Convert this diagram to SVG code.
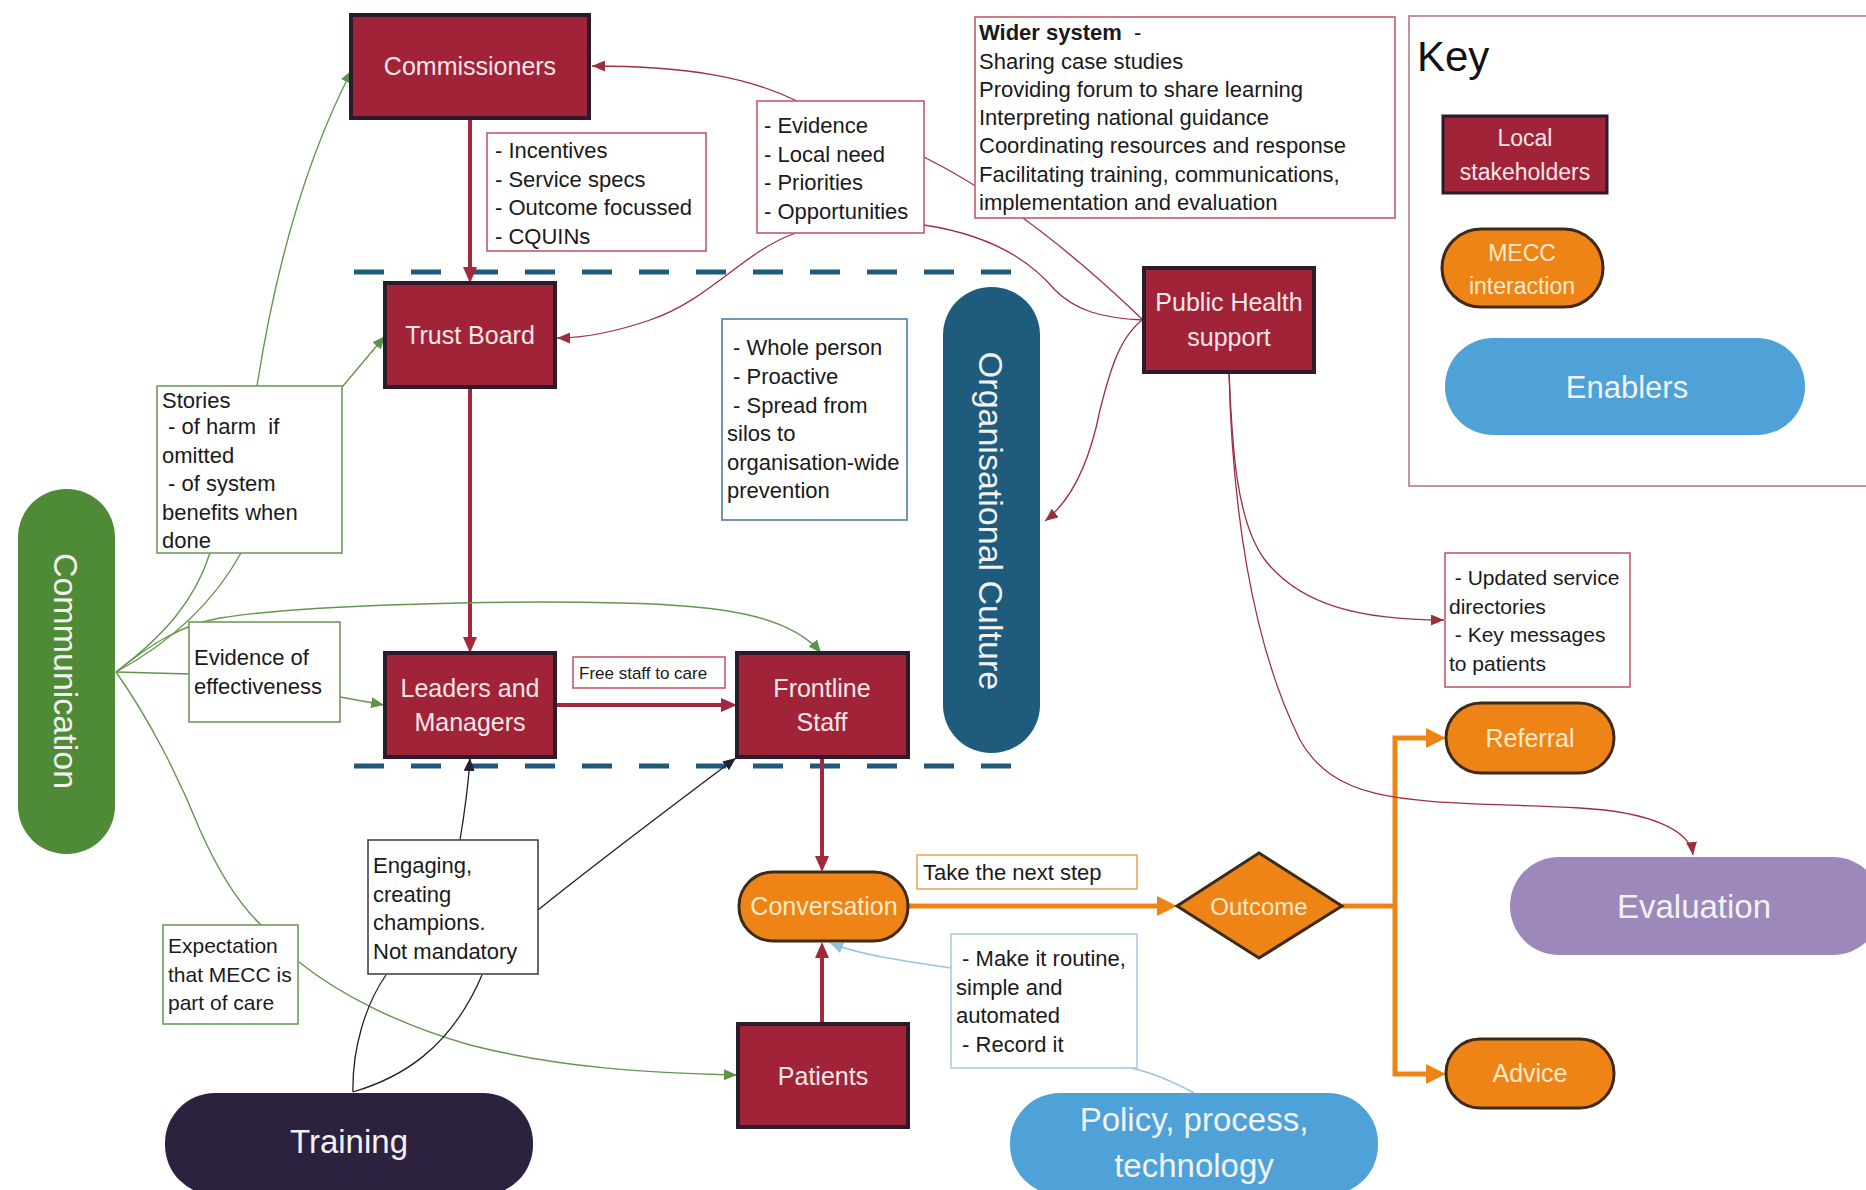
<svg xmlns="http://www.w3.org/2000/svg" width="1866" height="1190" viewBox="0 0 1866 1190" xml:space="preserve">
<style>
text { font-family: "Liberation Sans", Arial, sans-serif; white-space: pre; }
.lbl { font-size: 25px; fill: #F7E6E9; text-anchor: middle; }
.olbl { font-size: 25px; fill: #FDEBCB; text-anchor: middle; }
.big { font-size: 33px; fill: #F2F2F2; text-anchor: middle; }
.bt { font-size: 22px; fill: #1A1A1A; }
.stake { fill: #A02337; stroke: #2B1B2C; stroke-width: 4; }
.mecc { fill: #EE8416; stroke: #3E2A18; stroke-width: 3; }
.box { fill: #FFFFFF; stroke-width: 1.6; }
.bred { stroke: #C25A6A; }
.bgreen { stroke: #6E9A5C; }
.bblue { stroke: #4E7F9C; }
.blight { stroke: #A9CDE4; }
.borange { stroke: #F0A560; }
.bdark { stroke: #444444; }
.thick { fill: none; stroke: #A3283D; stroke-width: 4; }
.thinred { fill: none; stroke: #9C3040; stroke-width: 1.3; }
.green { fill: none; stroke: #649650; stroke-width: 1.4; }
.black { fill: none; stroke: #222222; stroke-width: 1.3; }
.lblue { fill: none; stroke: #96C4E2; stroke-width: 1.5; }
.orange { fill: none; stroke: #EE8416; stroke-width: 5; stroke-linejoin: miter; }
.dash { fill: none; stroke: #1F5A7A; stroke-width: 5; stroke-dasharray: 30 27; }
</style>
<defs>
<marker id="aRed" viewBox="0 0 16 14" refX="6" refY="7" markerWidth="16" markerHeight="14" markerUnits="userSpaceOnUse" orient="auto"><path d="M0,0 L16,7 L0,14 z" fill="#A3283D"/></marker>
<marker id="aOrange" viewBox="0 0 20 20" refX="8" refY="10" markerWidth="20" markerHeight="20" markerUnits="userSpaceOnUse" orient="auto"><path d="M0,0 L20,10 L0,20 z" fill="#EE8416"/></marker>
<marker id="aRedS" viewBox="0 0 13 11" refX="13" refY="5.5" markerWidth="13" markerHeight="11" markerUnits="userSpaceOnUse" orient="auto"><path d="M0,0 L13,5.5 L0,11 z" fill="#9C3040"/></marker>
<marker id="aGreen" viewBox="0 0 13 11" refX="13" refY="5.5" markerWidth="13" markerHeight="11" markerUnits="userSpaceOnUse" orient="auto"><path d="M0,0 L13,5.5 L0,11 z" fill="#5E9447"/></marker>
<marker id="aBlack" viewBox="0 0 13 11" refX="13" refY="5.5" markerWidth="13" markerHeight="11" markerUnits="userSpaceOnUse" orient="auto"><path d="M0,0 L13,5.5 L0,11 z" fill="#222233"/></marker>
<marker id="aBlue" viewBox="0 0 13 11" refX="13" refY="5.5" markerWidth="13" markerHeight="11" markerUnits="userSpaceOnUse" orient="auto"><path d="M0,0 L13,5.5 L0,11 z" fill="#8FC0E0"/></marker>
</defs>

<rect width="1866" height="1190" fill="#FFFFFF"/>

<g id="boundaries">
<path class="dash" d="M354,272 H1017"/>
<path class="dash" d="M354,766 H1017"/>
</g>

<g id="connectors">
<path class="thick" d="M470,118 V273" marker-end="url(#aRed)"/>
<path class="thick" d="M470,388 V643" marker-end="url(#aRed)"/>
<path class="thick" d="M556,705 H727" marker-end="url(#aRed)"/>
<path class="thick" d="M822,757 V862" marker-end="url(#aRed)"/>
<path class="thick" d="M822,1024 V952" marker-end="url(#aRed)"/>
<path class="orange" d="M908,906 H1165" marker-end="url(#aOrange)"/>
<path class="orange" d="M1342,906 H1395"/>
<path class="orange" d="M1395,906 V738 H1434" marker-end="url(#aOrange)"/>
<path class="orange" d="M1395,906 V1074 H1434" marker-end="url(#aOrange)"/>
<path class="thinred" d="M797,101 C750,78 690,66 592,66" marker-end="url(#aRedS)"/>
<path class="thinred" d="M796,233 C745,250 710,300 650,320 C615,332 585,338 557,338" marker-end="url(#aRedS)"/>
<path class="thinred" d="M924,157 C990,190 1060,240 1143,320"/>
<path class="thinred" d="M924,225 C990,235 1030,260 1055,290 C1075,310 1100,318 1143,320"/>
<path class="thinred" d="M1145,318 C1120,335 1110,370 1100,410 C1090,460 1072,500 1045,521" marker-end="url(#aRedS)"/>
<path class="thinred" d="M1229,372 C1232,440 1235,520 1265,560 C1300,605 1360,620 1444,620" marker-end="url(#aRedS)"/>
<path class="thinred" d="M1229,372 C1232,500 1250,640 1300,740 C1340,810 1420,800 1580,808 C1650,812 1690,830 1693,855" marker-end="url(#aRedS)"/>
<path class="green" d="M116,672 C165,635 195,600 210,553 L257,386 C272,290 300,170 352,70" marker-end="url(#aGreen)"/>
<path class="green" d="M116,672 C175,640 215,600 241,553 L343,386 L385,336" marker-end="url(#aGreen)"/>
<path class="green" d="M116,672 C150,645 180,625 220,618 C300,605 500,600 620,603 C720,605 790,615 821,653" marker-end="url(#aGreen)"/>
<path class="green" d="M116,672 L190,674 M340,697 L384,705" marker-end="url(#aGreen)"/>
<path class="green" d="M116,672 C150,720 180,780 200,830 C220,875 240,905 261,925"/>
<path class="green" d="M299,962 C340,995 400,1025 470,1045 C560,1068 650,1073 737,1075" marker-end="url(#aGreen)"/>
<path class="black" d="M353,1092 C352,1050 365,1005 386,975"/>
<path class="black" d="M460,840 C465,810 468,790 470,758" marker-end="url(#aBlack)"/>
<path class="black" d="M353,1092 C400,1078 450,1050 482,975"/>
<path class="black" d="M538,910 C600,860 680,800 736,758" marker-end="url(#aBlack)"/>
<path class="lblue" d="M1194,1093 C1170,1080 1150,1072 1131,1068"/>
<path class="lblue" d="M951,968 C910,962 860,955 830,943" marker-end="url(#aBlue)"/>
</g>

<g id="commissioners">
<rect class="stake" x="351" y="15" width="238" height="103"/>
<text class="lbl" x="470" y="75">Commissioners</text>
</g>
<g id="trust-board">
<rect class="stake" x="385" y="283" width="170" height="104"/>
<text class="lbl" x="470" y="344">Trust Board</text>
</g>
<g id="leaders-managers">
<rect class="stake" x="385" y="653" width="170" height="104"/>
<text class="lbl" x="470" y="697">Leaders and</text>
<text class="lbl" x="470" y="731">Managers</text>
</g>
<g id="frontline-staff">
<rect class="stake" x="737" y="653" width="171" height="104"/>
<text class="lbl" x="822" y="697">Frontline</text>
<text class="lbl" x="822" y="731">Staff</text>
</g>
<g id="public-health">
<rect class="stake" x="1144" y="268" width="170" height="104"/>
<text class="lbl" x="1229" y="311">Public Health</text>
<text class="lbl" x="1229" y="346">support</text>
</g>
<g id="patients">
<rect class="stake" x="738" y="1024" width="170" height="103"/>
<text class="lbl" x="823" y="1085">Patients</text>
</g>
<g id="conversation">
<rect class="mecc" x="739" y="872" width="169" height="69" rx="34"/>
<text class="olbl" x="824" y="915">Conversation</text>
</g>
<g id="outcome">
<polygon class="mecc" points="1177,906 1259,853 1342,906 1259,958"/>
<text class="olbl" x="1259" y="915" style="font-size:24px">Outcome</text>
</g>
<g id="referral">
<rect class="mecc" x="1446" y="703" width="168" height="70" rx="35"/>
<text class="olbl" x="1530" y="747">Referral</text>
</g>
<g id="advice">
<rect class="mecc" x="1446" y="1039" width="168" height="69" rx="34"/>
<text class="olbl" x="1530" y="1082">Advice</text>
</g>
<g id="evaluation">
<rect x="1510" y="857" width="372" height="98" rx="49" fill="#9C88BB"/>
<text class="big" x="1694" y="918">Evaluation</text>
</g>
<g id="policy">
<rect x="1010" y="1093" width="368" height="102" rx="50" fill="#4EA2D7"/>
<text class="big" x="1194" y="1131">Policy, process,</text>
<text class="big" x="1194" y="1177">technology</text>
</g>
<g id="training">
<rect x="165" y="1093" width="368" height="102" rx="50" fill="#2D2140"/>
<text class="big" x="349" y="1153">Training</text>
</g>
<g id="communication">
<rect x="18" y="489" width="97" height="365" rx="48" fill="#4F8A36"/>
<text class="big" transform="translate(66,671) rotate(90)" y="12" style="font-size:34px">Communication</text>
</g>
<g id="organisational-culture">
<rect x="943" y="287" width="97" height="466" rx="48" fill="#1E5B7D"/>
<text class="big" transform="translate(991,521) rotate(90)" y="12" style="font-size:34px">Organisational Culture</text>
</g>

<g id="incentives-box">
<rect class="box bred" x="487" y="133" width="219" height="118"/>
<text class="bt" x="495" y="158">- Incentives</text>
<text class="bt" x="495" y="186.5">- Service specs</text>
<text class="bt" x="495" y="215">- Outcome focussed</text>
<text class="bt" x="495" y="243.5">- CQUINs</text>
</g>
<g id="evidence-box">
<rect class="box bred" x="757" y="101" width="167" height="132"/>
<text class="bt" x="764" y="133">- Evidence</text>
<text class="bt" x="764" y="161.5">- Local need</text>
<text class="bt" x="764" y="190">- Priorities</text>
<text class="bt" x="764" y="218.5">- Opportunities</text>
</g>
<g id="wider-system-box">
<rect class="box bred" x="975" y="17" width="420" height="201"/>
<text class="bt" x="979" y="40"><tspan font-weight="bold">Wider system</tspan>  -</text>
<text class="bt" x="979" y="68.5">Sharing case studies</text>
<text class="bt" x="979" y="97">Providing forum to share learning</text>
<text class="bt" x="979" y="125">Interpreting national guidance</text>
<text class="bt" x="979" y="153">Coordinating resources and response</text>
<text class="bt" x="979" y="182">Facilitating training, communications,</text>
<text class="bt" x="979" y="210">implementation and evaluation</text>
</g>
<g id="whole-person-box">
<rect class="box bblue" x="722" y="319" width="185" height="201"/>
<text class="bt" x="727" y="355"> - Whole person</text>
<text class="bt" x="727" y="384"> - Proactive</text>
<text class="bt" x="727" y="412.5"> - Spread from</text>
<text class="bt" x="727" y="441">silos to</text>
<text class="bt" x="727" y="469.5">organisation-wide</text>
<text class="bt" x="727" y="498">prevention</text>
</g>
<g id="stories-box">
<rect class="box bgreen" x="157" y="386" width="185" height="167"/>
<text class="bt" x="162" y="408">Stories</text>
<text class="bt" x="162" y="434"> - of harm  if</text>
<text class="bt" x="162" y="462.5">omitted</text>
<text class="bt" x="162" y="491"> - of system</text>
<text class="bt" x="162" y="519.5">benefits when</text>
<text class="bt" x="162" y="548">done</text>
</g>
<g id="effectiveness-box">
<rect class="box bgreen" x="189" y="622" width="151" height="100"/>
<text class="bt" x="194" y="665">Evidence of</text>
<text class="bt" x="194" y="693.5">effectiveness</text>
</g>
<g id="free-staff-box">
<rect class="box bred" x="573" y="657" width="152" height="31"/>
<text class="bt" x="579" y="678.5" style="font-size:17px">Free staff to care</text>
</g>
<g id="updated-service-box">
<rect class="box bred" x="1445" y="553" width="185" height="134"/>
<text class="bt" x="1449" y="585" style="font-size:21px"> - Updated service</text>
<text class="bt" x="1449" y="613.5" style="font-size:21px">directories</text>
<text class="bt" x="1449" y="642" style="font-size:21px"> - Key messages</text>
<text class="bt" x="1449" y="670.5" style="font-size:21px">to patients</text>
</g>
<g id="next-step-box">
<rect class="box borange" x="917" y="855" width="220" height="34"/>
<text class="bt" x="923" y="880">Take the next step</text>
</g>
<g id="routine-box">
<rect class="box blight" x="951" y="934" width="186" height="134"/>
<text class="bt" x="956" y="966"> - Make it routine,</text>
<text class="bt" x="956" y="994.5">simple and</text>
<text class="bt" x="956" y="1023">automated</text>
<text class="bt" x="956" y="1051.5"> - Record it</text>
</g>
<g id="engaging-box">
<rect class="box bdark" x="368" y="840" width="170" height="134"/>
<text class="bt" x="373" y="873">Engaging,</text>
<text class="bt" x="373" y="901.5">creating</text>
<text class="bt" x="373" y="930">champions.</text>
<text class="bt" x="373" y="958.5">Not mandatory</text>
</g>
<g id="expectation-box">
<rect class="box bgreen" x="163" y="925" width="135" height="99"/>
<text class="bt" x="168" y="953" style="font-size:21px">Expectation</text>
<text class="bt" x="168" y="981.5" style="font-size:21px">that MECC is</text>
<text class="bt" x="168" y="1010" style="font-size:21px">part of care</text>
</g>

<g id="key">
<rect x="1409" y="16" width="480" height="470" fill="#FFFFFF" stroke="#B27A88" stroke-width="1.6"/>
<text x="1417" y="71" style="font-size:42px" fill="#111111">Key</text>
<g id="key-local">
<rect class="stake" x="1443" y="116" width="164" height="77" style="stroke-width:3"/>
<text class="lbl" x="1525" y="146" style="font-size:23px">Local</text>
<text class="lbl" x="1525" y="180" style="font-size:23px">stakeholders</text>
</g>
<g id="key-mecc">
<rect class="mecc" x="1442" y="229" width="161" height="78" rx="39"/>
<text class="olbl" x="1522" y="261" style="font-size:23px">MECC</text>
<text class="olbl" x="1522" y="294" style="font-size:23px">interaction</text>
</g>
<g id="key-enablers">
<rect x="1445" y="338" width="360" height="97" rx="48" fill="#4EA2D7"/>
<text class="big" x="1627" y="398" style="font-size:31px">Enablers</text>
</g>
</g>
</svg>
